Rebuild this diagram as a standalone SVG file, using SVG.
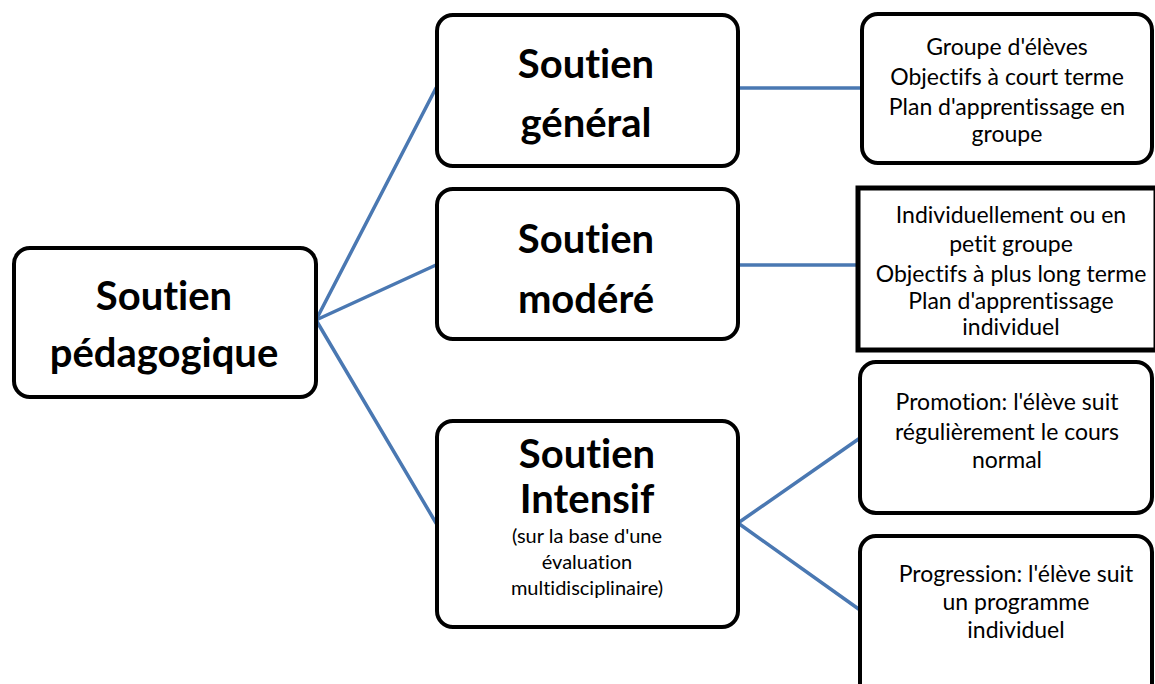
<svg xmlns="http://www.w3.org/2000/svg" width="1155" height="684" viewBox="0 0 1155 684">
<style>
text{font-variant-ligatures:none;font-feature-settings:"liga" 0}
.box{fill:#fff;stroke:#000;stroke-width:4}
.sq{fill:#fff;stroke:#000;stroke-width:5}
.con{stroke:#4a78b2;stroke-width:3.5;fill:none;stroke-linecap:round}
.big{font-family:Lato,"Liberation Sans",sans-serif;font-weight:bold;font-size:40px;text-anchor:middle;fill:#000}
.sm{font-family:Lato,"Liberation Sans",sans-serif;font-size:20px;text-anchor:middle;fill:#000}
.rt{font-family:Lato,"Liberation Sans",sans-serif;font-size:23px;text-anchor:middle;fill:#000}
</style>
<rect width="1155" height="684" fill="#fff"/>
<g id="connectors">
<line class="con" x1="316" y1="320" x2="436" y2="88"/>
<line class="con" x1="316" y1="320" x2="436" y2="265"/>
<line class="con" x1="316" y1="320" x2="436" y2="523"/>
<line class="con" x1="738" y1="88" x2="862" y2="88"/>
<line class="con" x1="738" y1="265" x2="857" y2="265"/>
<line class="con" x1="738" y1="523" x2="860" y2="438"/>
<line class="con" x1="738" y1="523" x2="860" y2="610"/>
</g>
<g id="root">
<rect class="box" x="14" y="248" width="302" height="149" rx="16"/>
<text class="big" x="164" y="310">Soutien</text>
<text class="big" x="164" y="367">pédagogique</text>
</g>
<g id="general">
<rect class="box" x="437" y="15" width="301" height="151" rx="16"/>
<text class="big" x="586" y="78">Soutien</text>
<text class="big" x="586" y="137">général</text>
</g>
<g id="modere">
<rect class="box" x="437" y="189" width="301" height="150" rx="16"/>
<text class="big" x="586" y="253">Soutien</text>
<text class="big" x="586" y="313">modéré</text>
</g>
<g id="intensif">
<rect class="box" x="437" y="421" width="301" height="206" rx="16"/>
<text class="big" x="587" y="468">Soutien</text>
<text class="big" x="587" y="513">Intensif</text>
<text class="sm" x="587" y="543">(sur la base d'une</text>
<text class="sm" x="587" y="569">évaluation</text>
<text class="sm" x="587" y="595">multidisciplinaire)</text>
</g>
<g id="groupe">
<rect class="box" x="862" y="14" width="290" height="149" rx="16"/>
<text class="rt" x="1007" y="55">Groupe d'élèves</text>
<text class="rt" x="1007" y="85">Objectifs à court terme</text>
<text class="rt" x="1007" y="115">Plan d'apprentissage en</text>
<text class="rt" x="1007" y="142">groupe</text>
</g>
<g id="individuel">
<rect class="sq" x="858" y="188" width="298" height="162"/>
<text class="rt" x="1011" y="223">Individuellement ou en</text>
<text class="rt" x="1011" y="252">petit groupe</text>
<text class="rt" x="1011" y="282">Objectifs à plus long terme</text>
<text class="rt" x="1011" y="309">Plan d'apprentissage</text>
<text class="rt" x="1011" y="335">individuel</text>
</g>
<g id="promotion">
<rect class="box" x="860" y="362" width="292" height="151" rx="16"/>
<text class="rt" x="1007" y="410">Promotion: l'élève suit</text>
<text class="rt" x="1007" y="440">régulièrement le cours</text>
<text class="rt" x="1007" y="468">normal</text>
</g>
<g id="progression">
<rect class="box" x="860" y="536" width="292" height="170" rx="16"/>
<text class="rt" x="1016" y="582">Progression: l'élève suit</text>
<text class="rt" x="1016" y="610">un programme</text>
<text class="rt" x="1016" y="638">individuel</text>
</g>
</svg>
